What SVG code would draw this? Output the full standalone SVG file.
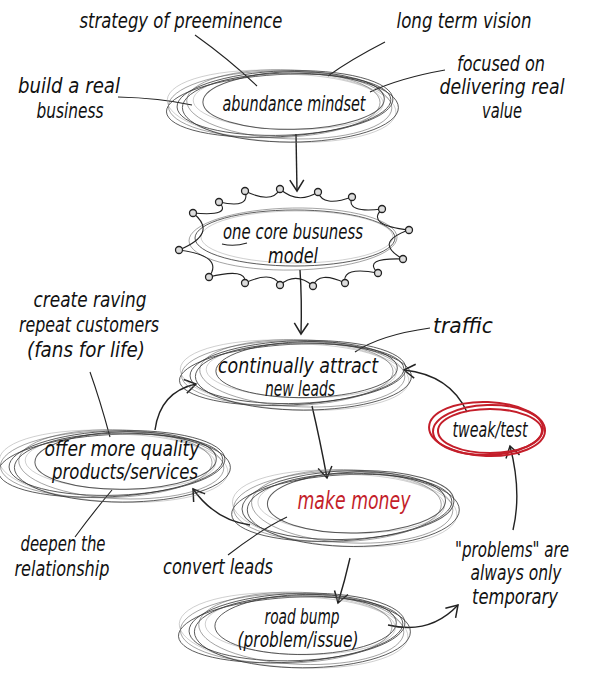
<svg xmlns="http://www.w3.org/2000/svg" width="590" height="688" viewBox="0 0 590 688">
<style>
text{font-family:"Liberation Sans Narrow","DejaVu Sans Condensed","Liberation Sans",sans-serif;font-style:italic;font-size:21px;fill:#111;text-anchor:middle}
.a{fill:none;stroke:#333;stroke-width:1;stroke-opacity:.8;vector-effect:non-scaling-stroke}
.b{fill:none;stroke:#555;stroke-width:.9;stroke-opacity:.6;vector-effect:non-scaling-stroke}
.c{fill:none;stroke:#999;stroke-width:.8;stroke-opacity:.6;vector-effect:non-scaling-stroke}
.r{fill:none;stroke:#c41e2a;stroke-width:2}
.ln{fill:none;stroke:#222;stroke-width:1.1}
.ar{fill:none;stroke:#222;stroke-width:1.4;marker-end:url(#ah)}
.dot{fill:#ddd;stroke:#222;stroke-width:1.3}
.red{fill:#c41e2a;font-size:25px}
</style>
<defs>
<marker id="ah" viewBox="-12 -8 14 16" markerWidth="14" markerHeight="16" refX="0" refY="0" orient="auto" markerUnits="userSpaceOnUse">
<path d="M-11,-7 L0,0 L-11,7" fill="none" stroke="#222" stroke-width="1.5"/>
</marker>
<g id="sk">
<ellipse rx="100" ry="28" transform="rotate(-2)" class="a"/>
<ellipse cx="4" cy="1" rx="95" ry="30" transform="rotate(2)" class="b"/>
<ellipse cx="-6" cy="2" rx="104" ry="27" transform="rotate(-3)" class="a"/>
<ellipse cx="3" cy="-1" rx="88" ry="24" transform="rotate(1)" class="c"/>
<ellipse cx="-3" cy="3" rx="106" ry="31" transform="rotate(3)" class="c"/>
<ellipse cx="-10" cy="1" rx="98" ry="29" transform="rotate(-1)" class="b"/>
<ellipse cx="5" cy="4" rx="100" ry="30" class="a"/>
<ellipse cx="8" cy="-2" rx="84" ry="25" transform="rotate(-1)" class="a"/>
</g>
</defs>
<rect width="590" height="688" fill="#fff"/>

<g id="connectors">
<path class="ln" d="M195,35 Q230,60 257,86"/>
<path class="ln" d="M385,42 Q350,60 328,76"/>
<path class="ln" d="M118,97 Q160,98 192,105"/>
<path class="ln" d="M445,70 Q400,78 370,92"/>
<path class="ln" d="M90,372 Q100,400 110,437"/>
<path class="ln" d="M430,328 Q380,335 355,352"/>
<path class="ln" d="M75,537 Q95,510 112,490"/>
<path class="ln" d="M228,555 Q260,530 287,517"/>
<path class="ar" d="M296,134 L297,191"/>
<path class="ar" d="M300,270 Q302,300 301,334"/>
<path class="ar" d="M312,406 Q320,440 327,478"/>
<path class="ar" d="M350,558 Q345,580 338,603"/>
<path class="ar" d="M250,525 Q215,520 193,489"/>
<path class="ar" d="M155,430 Q160,392 196,384"/>
<path class="ar" d="M467,412 Q450,375 404,370"/>
<path class="ar" d="M513,530 Q522,492 510,446"/>
<path class="ar" d="M388,625 Q430,635 458,605"/>
</g>

<g id="t-strategy"><text x="181" y="28" textLength="203" lengthAdjust="spacingAndGlyphs">strategy of preeminence</text></g>
<g id="t-longterm"><text x="464" y="28" textLength="135" lengthAdjust="spacingAndGlyphs">long term vision</text></g>
<g id="t-build"><text x="69" y="93" textLength="102" lengthAdjust="spacingAndGlyphs">build a real</text><text x="70" y="118" textLength="67" lengthAdjust="spacingAndGlyphs">business</text></g>
<g id="t-focused"><text x="501" y="71" textLength="88" lengthAdjust="spacingAndGlyphs">focused on</text><text x="502" y="94" textLength="125" lengthAdjust="spacingAndGlyphs">delivering real</text><text x="502" y="118" textLength="40" lengthAdjust="spacingAndGlyphs">value</text></g>

<g id="abundance">
<use href="#sk" transform="translate(285,103) scale(1.08,1.15)"/>
<text x="294" y="111" textLength="143" lengthAdjust="spacingAndGlyphs">abundance mindset</text>
</g>

<g id="core">
<ellipse cx="295" cy="238" rx="100" ry="28" class="a"/>
<ellipse cx="293" cy="239" rx="104" ry="31" class="b" transform="rotate(-1 295 238)"/>
<ellipse cx="297" cy="237" rx="96" ry="26" class="c"/>
<path class="ln" d="M179,250 Q218.7,233.5 193,213 Q232.7,216.7 219,202 Q250.9,209 245,191 Q272.3,204.4 280,189 Q297.8,204.8 318,192 Q323,207.5 352,197 Q345.4,213.5 382,209 Q365.5,225 409,230 Q372.7,242.5 403,259 Q361.8,257.6 378,273 Q341.5,266 345,283 Q318.8,270.5 313,286 Q296,271.3 280,285 Q272.3,270.2 245,283 Q247.4,267.4 209,277 Q224.3,255.9 179,250"/>
<g>
<circle class="dot" cx="179" cy="250" r="3.5"/><circle class="dot" cx="193" cy="213" r="3.5"/><circle class="dot" cx="219" cy="202" r="3.5"/><circle class="dot" cx="245" cy="191" r="3.5"/><circle class="dot" cx="280" cy="189" r="3.5"/><circle class="dot" cx="318" cy="192" r="3.5"/><circle class="dot" cx="352" cy="197" r="3.5"/><circle class="dot" cx="382" cy="209" r="3.5"/><circle class="dot" cx="409" cy="230" r="3.5"/><circle class="dot" cx="403" cy="259" r="3.5"/><circle class="dot" cx="378" cy="273" r="3.5"/><circle class="dot" cx="345" cy="283" r="3.5"/><circle class="dot" cx="313" cy="286" r="3.5"/><circle class="dot" cx="280" cy="285" r="3.5"/><circle class="dot" cx="245" cy="283" r="3.5"/><circle class="dot" cx="209" cy="277" r="3.5"/>
</g>
<text x="293" y="239" textLength="140" lengthAdjust="spacingAndGlyphs">one core busuness</text>
<path class="ln" d="M222,244 Q234,247 247,243"/>
<text x="293" y="263" textLength="50" lengthAdjust="spacingAndGlyphs">model</text>
</g>

<g id="t-raving"><text x="90" y="307" textLength="113" lengthAdjust="spacingAndGlyphs">create raving</text><text x="89" y="332" textLength="140" lengthAdjust="spacingAndGlyphs">repeat customers</text><text x="86" y="357" textLength="118" lengthAdjust="spacingAndGlyphs">(fans for life)</text></g>
<g id="t-traffic"><text x="463" y="333" textLength="60" lengthAdjust="spacingAndGlyphs">traffic</text></g>

<g id="attract">
<use href="#sk" transform="translate(298,372) scale(1.08,1.12)"/>
<text x="298" y="373" textLength="160" lengthAdjust="spacingAndGlyphs">continually attract</text>
<text x="300" y="396" textLength="70" lengthAdjust="spacingAndGlyphs">new leads</text>
</g>

<g id="tweak">
<ellipse class="r" cx="488" cy="430" rx="55" ry="25" transform="rotate(-2 488 430)"/>
<ellipse class="r" cx="490" cy="431" rx="52" ry="22"/>
<ellipse class="r" cx="487" cy="429" rx="58" ry="27" transform="rotate(2 488 430)"/>
<text x="490" y="437" textLength="75" lengthAdjust="spacingAndGlyphs">tweak/test</text>
</g>

<g id="offer">
<use href="#sk" transform="translate(117,463) scale(1.08,1.15)"/>
<text x="122" y="456" textLength="155" lengthAdjust="spacingAndGlyphs">offer more quality</text>
<text x="125" y="479" textLength="146" lengthAdjust="spacingAndGlyphs">products/services</text>
</g>

<g id="money">
<use href="#sk" transform="translate(348,505) scale(1.06,1.22)"/>
<text class="red" x="354" y="509" textLength="113" lengthAdjust="spacingAndGlyphs">make money</text>
</g>

<g id="t-deepen"><text x="63" y="551" textLength="85" lengthAdjust="spacingAndGlyphs">deepen the</text><text x="62" y="576" textLength="95" lengthAdjust="spacingAndGlyphs">relationship</text></g>
<g id="t-convert"><text x="218" y="574" textLength="110" lengthAdjust="spacingAndGlyphs">convert leads</text></g>
<g id="t-problems"><text x="512" y="557" font-size="18" textLength="114" lengthAdjust="spacingAndGlyphs">"problems" are</text><text x="516" y="580" textLength="91" lengthAdjust="spacingAndGlyphs">always only</text><text x="515" y="604" textLength="86" lengthAdjust="spacingAndGlyphs">temporary</text></g>

<g id="roadbump">
<use href="#sk" transform="translate(297,627) scale(1.08,1.2)"/>
<text x="302" y="624" textLength="75" lengthAdjust="spacingAndGlyphs">road bump</text>
<text x="298" y="647" textLength="121" lengthAdjust="spacingAndGlyphs">(problem/issue)</text>
</g>
</svg>
